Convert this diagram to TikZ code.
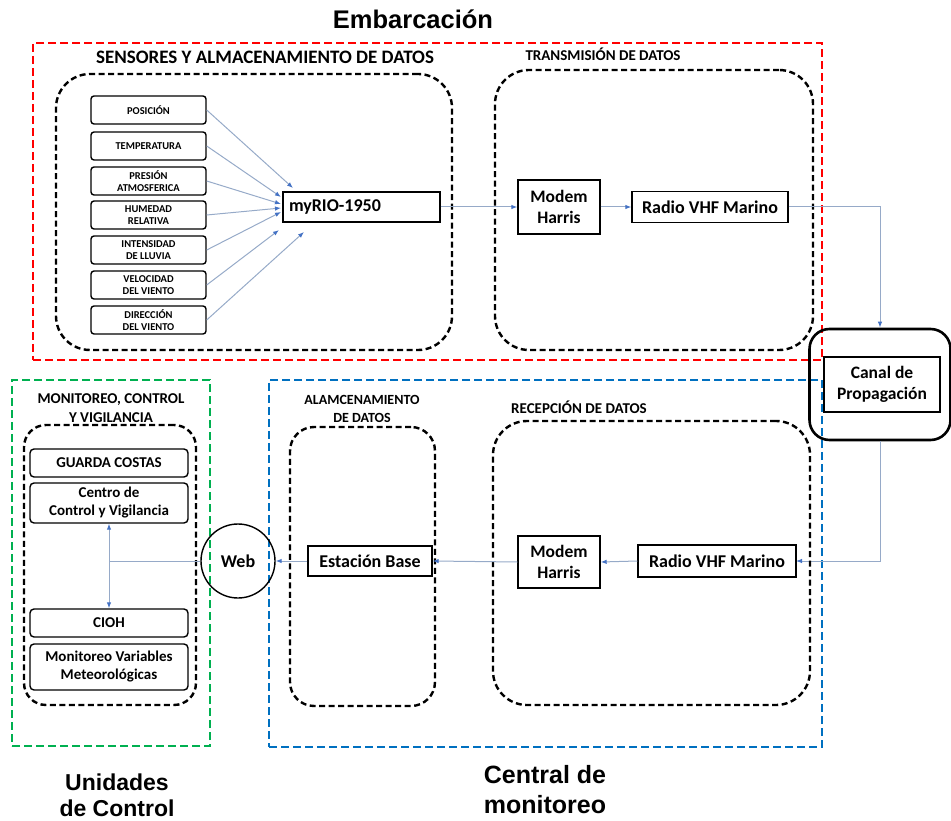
\documentclass[tikz,border=0pt]{standalone}
\usepackage{fontspec}
\setmainfont{Carlito}
\newfontfamily\headfont{Liberation Sans}
\usetikzlibrary{arrows.meta}
\definecolor{frameRed}{RGB}{255,0,0}
\definecolor{frameBlue}{RGB}{0,112,192}
\definecolor{frameGreen}{RGB}{0,176,80}
\definecolor{wire}{RGB}{150,170,200}
\definecolor{tipblue}{RGB}{68,114,196}
\begin{document}
\begin{tikzpicture}[x=1pt,y=-1pt,
  outerframe/.style={draw, line width=2.6pt, dash pattern=on 8pt off 4pt, inner sep=0pt},
  region/.style={draw, line width=2.4pt, dash pattern=on 6pt off 3.5pt, rounded corners=34pt, inner sep=0pt},
  narrowregion/.style={region, rounded corners=24pt},
  sensorbox/.style={draw, line width=1.4pt, rounded corners=3pt, minimum width=115pt, minimum height=28pt,
    inner sep=1pt, align=center, font=\fontsize{10.5}{12.5}\selectfont\bfseries},
  unitbox/.style={draw, line width=1.4pt, rounded corners=4pt, minimum width=158pt,
    inner sep=1pt, align=center, font=\fontsize{15}{18}\selectfont\bfseries},
  block/.style={draw, line width=1.4pt, inner sep=2pt, align=center, font=\fontsize{18}{21}\selectfont\bfseries},
  grouptitle/.style={align=center, font=\fontsize{15}{19}\selectfont\bfseries},
  bigtitle/.style={align=center, font=\headfont\fontsize{24}{28}\selectfont\bfseries},
  link/.style={draw=wire, line width=1pt, -{Latex[length=6pt,width=4.5pt,color=tipblue]}},
  plainlink/.style={draw=wire, line width=1pt},
]
\useasboundingbox (0,0) rectangle (951,821);

% ---------- outer frames ----------
\node[outerframe, draw=frameRed, minimum width=789pt, minimum height=317pt] (embarc) at (427.5,201.5) {};
\node[outerframe, draw=frameBlue, minimum width=553pt, minimum height=367pt] (central) at (545.5,563.5) {};
\node[outerframe, draw=frameGreen, minimum width=198pt, minimum height=366pt] (unidades) at (111,563) {};

\node[bigtitle, font=\headfont\fontsize{25.5}{30}\selectfont\bfseries] (tEmb) at (413,19) {Embarcación};
\node[bigtitle, font=\headfont\fontsize{23}{26}\selectfont\bfseries] (tUni) at (117,795) {Unidades\\de Control};
\node[bigtitle, font=\headfont\fontsize{25}{30}\selectfont\bfseries] (tCen) at (545,790) {Central de\\monitoreo};

% ---------- sensors and storage on board ----------
\node[grouptitle, font=\fontsize{19}{22}\selectfont\bfseries] (tSens) at (265,57) {SENSORES Y ALMACENAMIENTO DE DATOS};
\node[region, minimum width=396pt, minimum height=276pt] (sensreg) at (254,212) {};

\node[sensorbox] (s1) at (148.5,110) {POSICIÓN};
\node[sensorbox] (s2) at (148.5,146) {TEMPERATURA};
\node[sensorbox] (s3) at (148.5,181) {PRESIÓN\\ATMOSFERICA};
\node[sensorbox] (s4) at (148.5,215) {HUMEDAD\\RELATIVA};
\node[sensorbox] (s5) at (148.5,250) {INTENSIDAD\\DE LLUVIA};
\node[sensorbox] (s6) at (148.5,285) {VELOCIDAD\\DEL VIENTO};
\node[sensorbox] (s7) at (148.5,320) {DIRECCIÓN\\DEL VIENTO};

\node[block, minimum width=157pt, minimum height=30pt, text width=145pt, align=left] (myrio) at (361.5,207) {myRIO-1950};

\coordinate (in1) at (293,188);
\coordinate (in2) at (281,197);
\coordinate (in3) at (281,204);
\coordinate (in4) at (281,208);
\coordinate (in5) at (281,212);
\coordinate (in6) at (279,230);
\coordinate (in7) at (304,232);
\foreach \i in {1,...,7} { \draw[link] (s\i.east) -- (in\i); }

% ---------- transmission ----------
\node[grouptitle] (tTx) at (603,54) {TRANSMISIÓN DE DATOS};
\node[region, minimum width=318pt, minimum height=280pt] (txreg) at (654,210) {};
\node[block, minimum width=82pt, minimum height=54pt, font=\fontsize{17.5}{21}\selectfont\bfseries] (modemtx) at (559,207) {Modem\\Harris};
\node[block, minimum width=156pt, minimum height=31pt] (radiotx) at (710,207) {Radio VHF Marino};

\draw[link] (myrio.east) -- (modemtx.west);
\draw[link] (modemtx.east) -- (radiotx.west);

% ---------- propagation channel ----------
\node[draw, line width=2.6pt, rounded corners=20pt, minimum width=141pt, minimum height=111pt] (canalout) at (880,384.5) {};
\node[block, minimum width=116pt, minimum height=55pt, font=\fontsize{17.5}{21}\selectfont\bfseries] (canal) at (882,384.5) {Canal de\\Propagación};

\draw[link] (radiotx.east) -| (canalout.north);
\draw[link] (canalout.south) |- (717+79,561);

% ---------- reception ----------
\node[grouptitle] (tRx) at (579,407) {RECEPCIÓN DE DATOS};
\node[region, minimum width=317pt, minimum height=284pt] (rxreg) at (651.5,563) {};
\node[block, minimum width=158pt, minimum height=32pt] (radiorx) at (717,561) {Radio VHF Marino};
\node[block, minimum width=82pt, minimum height=52pt, font=\fontsize{17.5}{21}\selectfont\bfseries] (modemrx) at (559,562) {Modem\\Harris};

% ---------- storage ----------
\node[grouptitle, font=\fontsize{14}{18}\selectfont\bfseries] (tAlm) at (362,409) {ALAMCENAMIENTO\\DE DATOS};
\node[narrowregion, minimum width=145pt, minimum height=279pt] (almreg) at (362.5,566.5) {};
\node[block, minimum width=124pt, minimum height=30pt] (base) at (370,561) {Estación Base};

\node[draw, circle, line width=1.4pt, minimum size=74pt, inner sep=0pt,
  font=\fontsize{18}{20}\selectfont\bfseries] (web) at (238,561) {Web};

\draw[link] (radiorx.west) -- (modemrx.east);
\draw[link] (modemrx.west) -- (base.east);
\draw[link] (base.west) -- (web.east);

% ---------- control units ----------
\node[grouptitle] (tMon) at (111,408) {MONITOREO, CONTROL\\Y VIGILANCIA};
\node[narrowregion, rounded corners=22pt, minimum width=172pt, minimum height=280pt] (monreg) at (110,565) {};
\node[unitbox, minimum height=28pt] (guarda) at (109,463) {GUARDA COSTAS};
\node[unitbox, minimum height=40pt] (centro) at (109,503) {Centro de\\Control y Vigilancia};
\node[unitbox, minimum height=28pt] (cioh) at (109,623) {CIOH};
\node[unitbox, minimum height=46pt] (monvar) at (109,667) {Monitoreo Variables\\Meteorológicas};

\coordinate (split) at (centro.south |- web.west);
\draw[plainlink] (web.west) -- (split);
\draw[link, {Latex[length=6pt,width=4.5pt,color=tipblue]}-{Latex[length=6pt,width=4.5pt,color=tipblue]}] (centro.south) -- (cioh.north);
\end{tikzpicture}
\end{document}
